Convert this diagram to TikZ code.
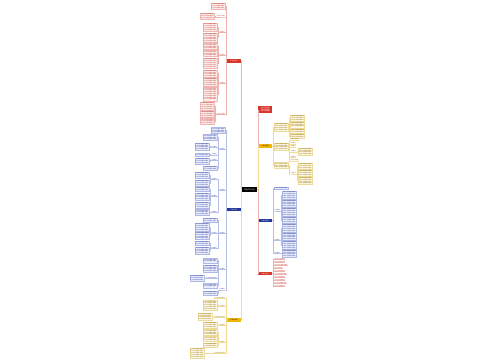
\documentclass[tikz,border=0pt]{standalone}
\usepackage{fontspec}
\newfontfamily\cjk{Noto Sans CJK SC}
\definecolor{cR}{HTML}{D9372B}
\definecolor{cRt}{HTML}{C0392B}
\definecolor{cRf}{HTML}{FDEFEE}
\definecolor{cRd}{HTML}{F0B5B0}
\definecolor{cRl}{HTML}{EDB3AE}
\definecolor{cB}{HTML}{22389A}
\definecolor{cBt}{HTML}{2E3F9E}
\definecolor{cBf}{HTML}{EBEEFB}
\definecolor{cBd}{HTML}{AEB8E6}
\definecolor{cBl}{HTML}{B5C0EA}
\definecolor{cY}{HTML}{F2B705}
\definecolor{cYt}{HTML}{8C6A00}
\definecolor{cYf}{HTML}{FEF9E7}
\definecolor{cYd}{HTML}{EDDA98}
\definecolor{cYl}{HTML}{F2DC92}
\def\tl{工作计划内容安排落实}
\def\TI{\tl}
\def\TII{\tl\\\tl}
\def\TIII{\tl\\\tl\\\tl}
\def\TIV{\tl\\\tl\\\tl\\\tl}
\def\TV{\tl\\\tl\\\tl\\\tl\\\tl}
\def\TVII{\tl\\\tl\\\tl\\\tl\\\tl\\\tl\\\tl}
\def\lfour{工作要点}
\def\lsix{计划工作内容}
\def\leight{计划工作内容安排}
\newcommand\LB[3]{\draw[#1] (#2) -- ++(-1.2,0) |- (#3.east);}
\newcommand\LL[3]{\draw[#1] (#2) -- ++(-1.2,0) |- (#3.south east) -- (#3.south west);}
\newcommand\RB[3]{\draw[#1] (#2) -- ++(1.2,0) |- (#3.west);}
\newcommand\RL[3]{\draw[#1] (#2) -- ++(1.2,0) |- (#3.south west) -- (#3.south east);}
\tikzset{
  mmbase/.style={inner sep=0.6pt, outer sep=0pt, align=left, font=\cjk\fontsize{1.3}{1.8}\selectfont},
  root/.style={mmbase, fill=black, text=white, minimum width=15pt, minimum height=5pt, align=center, font=\cjk\fontsize{1.7}{2}\selectfont},
  mainR/.style={mmbase, fill=cR, text=white, minimum width=14pt, minimum height=3.4pt, align=center, font=\cjk\fontsize{1.5}{1.8}\selectfont},
  mainB/.style={mainR, fill=cB},
  mainY/.style={mainR, fill=cY, text=black},
  boxR/.style={mmbase, fill=cRf, draw=cRd, line width=0.2pt, text=cRt},
  boxB/.style={mmbase, fill=cBf, draw=cBd, line width=0.2pt, text=cBt},
  boxY/.style={mmbase, fill=cYf, draw=cYd, line width=0.2pt, text=cYt},
  lblR/.style={mmbase, inner sep=0.4pt, text=cRt},
  lblB/.style={mmbase, inner sep=0.4pt, text=cBt},
  lblY/.style={mmbase, inner sep=0.4pt, text=cYt},
  lnR/.style={draw=cRl, line width=0.25pt},
  lnB/.style={draw=cBl, line width=0.25pt},
  lnY/.style={draw=cYl, line width=0.25pt},
}
\begin{document}
\begin{tikzpicture}[x=1pt,y=-1pt]
\fill[white] (0,0) rectangle (500,360);
\useasboundingbox (0,0) rectangle (500,360);
% root and main nodes
\node[root] (root) at (249.5,189.5) {年度工作计划};
\node[mainR, anchor=east] (L1) at (241,61) {工作计划一};
\node[mainB, anchor=east] (L2) at (241,209.5) {工作计划二};
\node[mainY, anchor=east] (L3) at (241,320) {工作计划三};
\node[mainR, anchor=west, align=left] (R1) at (258,109.5) {工作计划内容\\工作计划内容\\工作计划内容};
\node[mainY, anchor=west] (R2) at (258,146) {工作计划四};
\node[mainB, anchor=west] (R3) at (258,220.5) {工作计划五};
\node[mainR, anchor=west] (R4) at (258,273.5) {工作计划六};
\draw[lnR] (root.west) -- ++(-1,0) |- (L1.east);
\draw[lnB] (root.west) -- ++(-1,0) |- (L2.east);
\draw[lnY] (root.west) -- ++(-1,0) |- (L3.east);
\draw[lnR] (root.east) -- ++(1,0) |- (R1.west);
\draw[lnY] (root.east) -- ++(1,0) |- (R2.west);
\draw[lnB] (root.east) -- ++(1,0) |- (R3.west);
\draw[lnR] (root.east) -- ++(1,0) |- (R4.west);
% ---------- L1 red ----------
\node[boxR, anchor=east] (A1) at (225,6) {\TIII};
\node[lblR, anchor=south east] (A2) at (225,17) {\lsix};
\node[boxR, anchor=east] (A2a) at (214.4,16) {\TIII};
\node[lblR, anchor=south east] (A3) at (225,32.5) {\lfour};
\node[boxR, anchor=east] (A3a) at (217,27) {\TIV};
\node[boxR, anchor=east] (A3b) at (217,37.6) {\TV};
\node[lblR, anchor=south east] (A4) at (225,55.5) {\lfour};
\node[boxR, anchor=east] (A4a) at (217,46.5) {\TIII};
\node[boxR, anchor=east] (A4b) at (217,53.5) {\TIII};
\node[boxR, anchor=east] (A4c) at (217,63) {\TV};
\node[lblR, anchor=south east] (A5) at (225,83.5) {\lfour};
\node[boxR, anchor=east] (A5a) at (217,73.5) {\TIV};
\node[boxR, anchor=east] (A5b) at (217,82) {\TIV};
\node[boxR, anchor=east] (A5c) at (217,94) {\TVII};
\node[lblR, anchor=south east] (A6) at (225,114.5) {\lsix};
\node[boxR, anchor=east] (A6a) at (214.4,106) {\TIV};
\node[boxR, anchor=east] (A6b) at (214.4,114.2) {\TIII};
\node[boxR, anchor=east] (A6c) at (214.4,121.4) {\TIII};
\LB{lnR}{L1.west}{A1}
\LL{lnR}{L1.west}{A2}
\LL{lnR}{L1.west}{A3}
\LL{lnR}{L1.west}{A4}
\LL{lnR}{L1.west}{A5}
\LL{lnR}{L1.west}{A6}
\LB{lnR}{A2.south west}{A2a}
\LB{lnR}{A3.south west}{A3a}
\LB{lnR}{A3.south west}{A3b}
\LB{lnR}{A4.south west}{A4a}
\LB{lnR}{A4.south west}{A4b}
\LB{lnR}{A4.south west}{A4c}
\LB{lnR}{A5.south west}{A5a}
\LB{lnR}{A5.south west}{A5b}
\LB{lnR}{A5.south west}{A5c}
\LB{lnR}{A6.south west}{A6a}
\LB{lnR}{A6.south west}{A6b}
\LB{lnR}{A6.south west}{A6c}
% ---------- L2 blue ----------
\node[boxB, anchor=east] (B0) at (225,130.5) {\TIII};
\node[lblB, anchor=south east] (B1) at (225,149.5) {\lfour};
\node[boxB, anchor=east] (B1a) at (217,137.5) {\TIII};
\node[lblB, anchor=south east] (B1b) at (217,147.5) {\lfour};
\node[boxB, anchor=east] (B1b1) at (209,146.5) {\TIV};
\node[lblB, anchor=south east] (B1c) at (217,154.8) {\lfour};
\node[boxB, anchor=east] (B1c1) at (209,154.5) {\TI};
\node[lblB, anchor=south east] (B1d) at (217,160.5) {\lfour};
\node[boxB, anchor=east] (B1d1) at (209,160.8) {\TIII};
\node[boxB, anchor=east] (B1e) at (217,168.3) {\TII};
\node[lblB, anchor=south east] (B2) at (225,190.5) {\lfour};
\node[lblB, anchor=south east] (B2a) at (217,179.5) {\lfour};
\node[boxB, anchor=east] (B2a1) at (209,175) {\TIII};
\node[boxB, anchor=east] (B2a2) at (209,183) {\TIII};
\node[lblB, anchor=south east] (B2b) at (217,196.5) {\lfour};
\node[boxB, anchor=east] (B2b1) at (209,189.3) {\TII};
\node[boxB, anchor=east] (B2b2) at (209,196.5) {\TIV};
\node[boxB, anchor=east] (B2b3) at (209,205) {\TIII};
\node[lblB, anchor=south east] (B2c) at (217,212.5) {\lfour};
\node[boxB, anchor=east] (B2c1) at (209,212.3) {\TIII};
\node[lblB, anchor=south east] (B3) at (225,233.5) {\lfour};
\node[boxB, anchor=east] (B3a) at (217,220) {\TII};
\node[lblB, anchor=south east] (B3b) at (217,233.5) {\lfour};
\node[boxB, anchor=east] (B3b1) at (209,227) {\TIV};
\node[boxB, anchor=east] (B3b2) at (209,235.6) {\TIV};
\node[lblB, anchor=south east] (B3c) at (217,248.5) {\lfour};
\node[boxB, anchor=east] (B3c1) at (209,243) {\TII};
\node[boxB, anchor=east] (B3c2) at (209,250.5) {\TIV};
\node[lblB, anchor=south east] (B4) at (225,269.5) {\lfour};
\node[boxB, anchor=east] (B4a) at (217,260.5) {\TII};
\node[boxB, anchor=east] (B4b) at (217,268.5) {\TIV};
\node[lblB, anchor=south east] (B4c) at (217,278.5) {\leight};
\node[boxB, anchor=east] (B4c1) at (203.8,278) {\TIII};
\node[boxB, anchor=east] (B4d) at (217,285.5) {\TII};
\node[lblB, anchor=south east] (B5) at (225,290) {\lfour};
\node[boxB, anchor=east] (B5a) at (217,293.3) {\TII};
\LB{lnB}{L2.west}{B0}
\LL{lnB}{L2.west}{B1}
\LL{lnB}{L2.west}{B2}
\LL{lnB}{L2.west}{B3}
\LL{lnB}{L2.west}{B4}
\LL{lnB}{L2.west}{B5}
\LB{lnB}{B1.south west}{B1a}
\LL{lnB}{B1.south west}{B1b}
\LL{lnB}{B1.south west}{B1c}
\LL{lnB}{B1.south west}{B1d}
\LB{lnB}{B1.south west}{B1e}
\LB{lnB}{B1b.south west}{B1b1}
\LB{lnB}{B1c.south west}{B1c1}
\LB{lnB}{B1d.south west}{B1d1}
\LL{lnB}{B2.south west}{B2a}
\LL{lnB}{B2.south west}{B2b}
\LL{lnB}{B2.south west}{B2c}
\LB{lnB}{B2a.south west}{B2a1}
\LB{lnB}{B2a.south west}{B2a2}
\LB{lnB}{B2b.south west}{B2b1}
\LB{lnB}{B2b.south west}{B2b2}
\LB{lnB}{B2b.south west}{B2b3}
\LB{lnB}{B2c.south west}{B2c1}
\LB{lnB}{B3.south west}{B3a}
\LL{lnB}{B3.south west}{B3b}
\LL{lnB}{B3.south west}{B3c}
\LB{lnB}{B3b.south west}{B3b1}
\LB{lnB}{B3b.south west}{B3b2}
\LB{lnB}{B3c.south west}{B3c1}
\LB{lnB}{B3c.south west}{B3c2}
\LB{lnB}{B4.south west}{B4a}
\LB{lnB}{B4.south west}{B4b}
\LL{lnB}{B4.south west}{B4c}
\LB{lnB}{B4.south west}{B4d}
\LB{lnB}{B4c.south west}{B4c1}
\LB{lnB}{B5.south west}{B5a}
% ---------- L3 yellow ----------
\node[lblY, anchor=south east] (C1) at (225,298.5) {\leight};
\node[lblY, anchor=south east] (C2) at (225,306.5) {\lfour};
\node[boxY, anchor=east] (C2a) at (217,305.2) {\TV};
\node[lblY, anchor=south east] (C3) at (225,317.5) {\leight};
\node[boxY, anchor=east] (C3a) at (211.8,316.5) {\TIV};
\node[lblY, anchor=south east] (C4) at (225,325.5) {\lfour};
\node[boxY, anchor=east] (C4a) at (217,325.2) {\TIII};
\node[lblY, anchor=south east] (C5) at (225,342.5) {\lfour};
\node[boxY, anchor=east] (C5a) at (217,332.5) {\TIII};
\node[boxY, anchor=east] (C5b) at (217,338.6) {\TII};
\node[boxY, anchor=east] (C5c) at (217,345) {\TII};
\node[lblY, anchor=south east] (C6) at (225,353.5) {\leight};
\node[boxY, anchor=east] (C6a) at (204,353) {\TV};
\LL{lnY}{L3.west}{C1}
\LL{lnY}{L3.west}{C2}
\LL{lnY}{L3.west}{C3}
\LL{lnY}{L3.west}{C4}
\LL{lnY}{L3.west}{C5}
\LL{lnY}{L3.west}{C6}
\LB{lnY}{C2.south west}{C2a}
\LB{lnY}{C3.south west}{C3a}
\LB{lnY}{C4.south west}{C4a}
\LB{lnY}{C5.south west}{C5a}
\LB{lnY}{C5.south west}{C5b}
\LB{lnY}{C5.south west}{C5c}
\LB{lnY}{C6.south west}{C6a}
% ---------- R2 yellow ----------
\node[boxY, anchor=west] (D1) at (274,127) {\TIV};
\node[boxY, anchor=west] (D1a) at (290.2,117.8) {\TIII};
\node[boxY, anchor=west] (D1b) at (290.2,124.6) {\TIII};
\node[boxY, anchor=west] (D1c) at (290.2,130.8) {\TII};
\node[boxY, anchor=west] (D1d) at (290.2,136) {\TII};
\node[boxY, anchor=west] (D2) at (274,146.5) {\TIV};
\node[lblY, anchor=south west] (D2a) at (290.2,140.3) {\lsix};
\node[lblY, anchor=south west] (D2b) at (290.2,143.8) {\lfour};
\node[lblY, anchor=south west] (D2c) at (290.2,147.3) {\lfour};
\node[lblY, anchor=south west] (D2d) at (290.2,152.3) {\lfour};
\node[boxY, anchor=west] (D2d1) at (298,151.5) {\TIV};
\node[lblY, anchor=south west] (D2e) at (290.2,157.5) {\lfour};
\node[lblY, anchor=south west] (D2f) at (290.2,160.8) {\lsix};
\node[boxY, anchor=west] (D3) at (274,165.5) {\TIII};
\node[lblY, anchor=south west] (D3a) at (290.2,174) {\lfour};
\node[boxY, anchor=west] (D3a1) at (298,166) {\TIII};
\node[boxY, anchor=west] (D3a2) at (298,172.7) {\TIII};
\node[boxY, anchor=west] (D3a3) at (298,180.6) {\TIV};
\RB{lnY}{R2.east}{D1}
\RB{lnY}{R2.east}{D2}
\RB{lnY}{R2.east}{D3}
\RB{lnY}{D1.east}{D1a}
\RB{lnY}{D1.east}{D1b}
\RB{lnY}{D1.east}{D1c}
\RB{lnY}{D1.east}{D1d}
\RL{lnY}{D2.east}{D2a}
\RL{lnY}{D2.east}{D2b}
\RL{lnY}{D2.east}{D2c}
\RL{lnY}{D2.east}{D2d}
\RL{lnY}{D2.east}{D2e}
\RL{lnY}{D2.east}{D2f}
\RB{lnY}{D2d.south east}{D2d1}
\RL{lnY}{D3.east}{D3a}
\RB{lnY}{D3a.south east}{D3a1}
\RB{lnY}{D3a.south east}{D3a2}
\RB{lnY}{D3a.south east}{D3a3}
% ---------- R3 blue ----------
\node[boxB, anchor=west] (E0) at (274,188) {\TI};
\node[lblB, anchor=south west] (E1) at (274,211) {\lfour};
\node[boxB, anchor=west] (E1a) at (282,195) {\TIV};
\node[boxB, anchor=west] (E1b) at (282,203.5) {\TIV};
\node[boxB, anchor=west] (E1c) at (282,212) {\TIV};
\node[boxB, anchor=west] (E1d) at (282,220) {\TIII};
\node[lblB, anchor=south west] (E2) at (274,240.5) {\lfour};
\node[boxB, anchor=west] (E2a) at (282,228) {\TIV};
\node[boxB, anchor=west] (E2b) at (282,236.5) {\TIV};
\node[boxB, anchor=west] (E2c) at (282,245) {\TIV};
\node[lblB, anchor=south west] (E3) at (274,253.5) {\lfour};
\node[boxB, anchor=west] (E3a) at (282,253.5) {\TIV};
\RB{lnB}{R3.east}{E0}
\RL{lnB}{R3.east}{E1}
\RL{lnB}{R3.east}{E2}
\RL{lnB}{R3.east}{E3}
\RB{lnB}{E1.south east}{E1a}
\RB{lnB}{E1.south east}{E1b}
\RB{lnB}{E1.south east}{E1c}
\RB{lnB}{E1.south east}{E1d}
\RB{lnB}{E2.south east}{E2a}
\RB{lnB}{E2.south east}{E2b}
\RB{lnB}{E2.south east}{E2c}
\RB{lnB}{E3.south east}{E3a}
% ---------- R4 red ----------
\node[lblR, anchor=south west] (F0) at (274,259.5) {\leight};
\node[lblR, anchor=south west] (F1) at (274,262.5) {\leight};
\node[lblR, anchor=south west] (F2) at (274,265.5) {计划工作内容安排落实};
\node[lblR, anchor=south west] (F3) at (274,268.5) {\lsix};
\node[lblR, anchor=south west] (F4) at (274,271.5) {\leight};
\node[lblR, anchor=south west] (F5) at (274,274.5) {计划工作内容安排落};
\node[lblR, anchor=south west] (F6) at (274,277.5) {\leight};
\node[lblR, anchor=south west] (F7) at (274,280.5) {\leight};
\node[lblR, anchor=south west] (F8) at (274,283.5) {计划工作内容安排落};
\node[lblR, anchor=south west] (F9) at (274,286.5) {\leight};
\foreach \k in {0,...,9}{\RL{lnR}{R4.east}{F\k}}
\end{tikzpicture}
\end{document}
